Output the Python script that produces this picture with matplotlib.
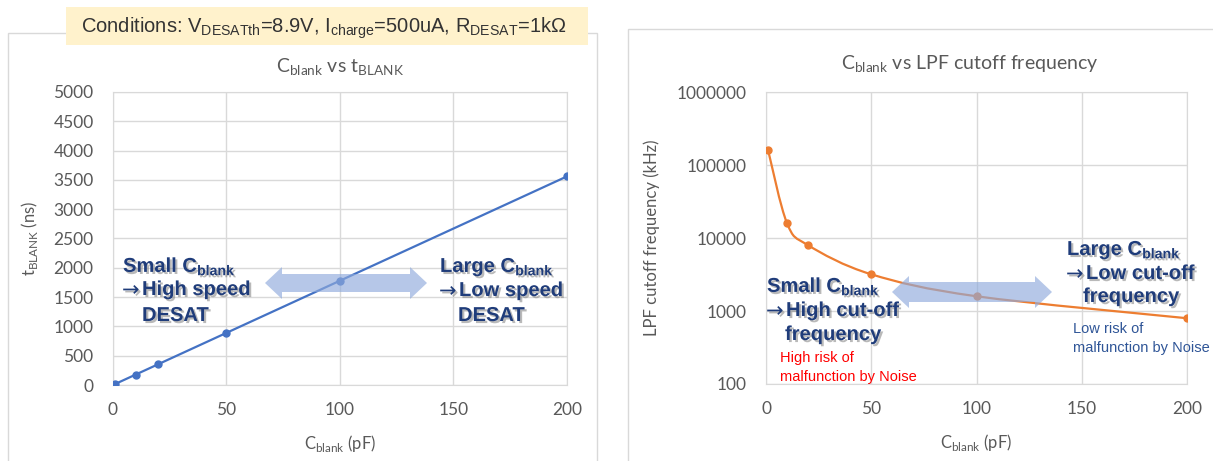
import matplotlib
matplotlib.use('Agg')
import matplotlib.pyplot as plt
import matplotlib.patheffects as pe
from matplotlib.patches import Rectangle, Polygon, PathPatch
from matplotlib.path import Path
import numpy as np

###################
# data
###################
c_blank = [1, 10, 20, 50, 100, 200]                      # pF
t_blank = [17.8, 178, 356, 890, 1780, 3560]              # ns
f_cut = [159155, 15915, 7958, 3183, 1592, 796]           # kHz

x_ticks = [0, 50, 100, 150, 200]
t_ticks = [0, 500, 1000, 1500, 2000, 2500, 3000, 3500, 4000, 4500, 5000]
f_ticks = [100, 1000, 10000, 100000, 1000000]
f_tick_labels = ['100', '1000', '10000', '100000', '1000000']

W, H = 1213, 461
GRID = '#d9d9d9'
TXT = '#595959'
NAVY = '#1f3c7a'
BLUE = '#4472c4'
ORANGE = '#ed7d31'

plt.rcParams['font.family'] = ['Lato', 'DejaVu Sans']

fig = plt.figure(figsize=(W / 100, H / 100), dpi=100)


def fx(x):
    return x / W


def fy(y):
    return 1 - y / H


def box(x0, y0, x1, y1, **kw):
    fig.patches.append(Rectangle((fx(x0), fy(y1)), fx(x1 - x0), (y1 - y0) / H,
                                 transform=fig.transFigure, **kw))


def double_arrow(x0, x1, yc, hl=17, hh=16, bh=9):
    pts = [(x0, yc), (x0 + hl, yc - hh), (x0 + hl, yc - bh), (x1 - hl, yc - bh),
           (x1 - hl, yc - hh), (x1, yc), (x1 - hl, yc + hh), (x1 - hl, yc + bh),
           (x0 + hl, yc + bh), (x0 + hl, yc + hh)]
    fig.patches.append(Polygon([(fx(a), fy(b)) for a, b in pts], closed=True,
                               transform=fig.transFigure, facecolor='#8faadc',
                               edgecolor='none', alpha=0.65, zorder=5))


shadow = [pe.withSimplePatchShadow(offset=(1.5, -1.5), shadow_rgbFace='#808080', alpha=0.55)]


def note(x, y, s, size=14.5, color=NAVY, bold=True, fam=('Liberation Sans', 'DejaVu Sans')):
    fig.text(fx(x), fy(y), s, fontsize=size, color=color,
             fontweight='bold' if bold else 'normal',
             family=list(fam), va='baseline', ha='left',
             path_effects=shadow if bold else None, zorder=6)


def arrow_note(x, y, s):
    # long thin arrow glyph from DejaVu, rest in Arial-like face
    fig.text(fx(x - 1), fy(y + 1), '\u2192', fontsize=15, color=NAVY,
             family=['DejaVu Sans'], va='baseline', ha='left', zorder=6,
             path_effects=shadow)
    note(x + 19, y, s)


def smooth_path(ax, xs, ys):
    # Catmull-Rom style bezier, like spreadsheet "smoothed line"
    p = ax.transAxes.inverted().transform(ax.transData.transform(np.column_stack([xs, ys])))
    n = len(p)
    verts = [p[0]]
    codes = [Path.MOVETO]
    for i in range(n - 1):
        pm = p[i - 1] if i > 0 else p[i]
        pn = p[i + 2] if i + 2 < n else p[i + 1]
        c1 = p[i] + (p[i + 1] - pm) / 6
        c2 = p[i + 1] - (pn - p[i]) / 6
        verts += [c1, c2, p[i + 1]]
        codes += [Path.CURVE4] * 3
    return Path(verts, codes)


# panel borders
box(8, 33, 597, 470, facecolor='none', edgecolor=GRID, lw=1)
box(628, 29, 1230, 470, facecolor='none', edgecolor=GRID, lw=1)

###################
# left : t_BLANK
###################
ax1 = fig.add_axes([fx(113), fy(385), (567 - 113) / W, (385 - 92) / H])
ax1.plot(c_blank, t_blank, color=BLUE, lw=1.6, marker='o', ms=5, zorder=3)
ax1.set_xlim(0, 200)
ax1.set_ylim(0, 5000)
ax1.set_xticks(x_ticks)
ax1.set_yticks(t_ticks)
ax1.set_ylabel(r't$_{\mathregular{BLANK}}$ (ns)', fontsize=12, color=TXT)
ax1.set_xlabel(r'C$_{\mathregular{blank}}$ (pF)', fontsize=12, color=TXT)
ax1.yaxis.set_label_coords(-0.161, 0.5)
ax1.xaxis.set_label_coords(0.5, -0.165)

###################
# right : cutoff
###################
ax2 = fig.add_axes([fx(766), fy(384), (1187 - 766) / W, (384 - 92) / H])
ax2.set_yscale('log')
ax2.set_xlim(0, 200)
ax2.set_ylim(100, 1000000)
ax2.set_xticks(x_ticks)
ax2.set_yticks(f_ticks)
ax2.set_yticklabels(f_tick_labels)
ax2.yaxis.set_minor_locator(matplotlib.ticker.NullLocator())
ax2.add_patch(PathPatch(smooth_path(ax2, c_blank, f_cut), transform=ax2.transAxes,
                        facecolor='none', edgecolor=ORANGE, lw=1.6, zorder=3))
ax2.plot(c_blank, f_cut, color=ORANGE, ls='none', marker='o', ms=5, zorder=3)
ax2.set_ylabel('LPF cutoff frequency (kHz)', fontsize=12, color=TXT)
ax2.set_xlabel(r'C$_{\mathregular{blank}}$ (pF)', fontsize=12, color=TXT)
ax2.yaxis.set_label_coords(-0.252, 0.5)
ax2.xaxis.set_label_coords(0.5, -0.165)

for ax in (ax1, ax2):
    ax.grid(True, color=GRID, lw=1)
    ax.set_axisbelow(True)
    for s in ax.spines.values():
        s.set_color(GRID)
    ax.tick_params(length=0, labelsize=12.5, labelcolor=TXT)
    ax.tick_params(axis='y', pad=14)
    ax.tick_params(axis='x', pad=12)

# titles
fig.text(fx(340), fy(73), r'C$_{\mathregular{blank}}$ vs t$_{\mathregular{BLANK}}$',
         fontsize=14, color=TXT, ha='center', va='baseline')
fig.text(fx(970), fy(70), r'C$_{\mathregular{blank}}$ vs LPF cutoff frequency',
         fontsize=14, color=TXT, ha='center', va='baseline')

# conditions box
box(66, 7, 588, 45, facecolor='#fff2cc', edgecolor='none', zorder=4)
fig.text(fx(324), fy(33),
         r'Conditions: V$_{\mathregular{DESATth}}$=8.9V, I$_{\mathregular{charge}}$=500uA, R$_{\mathregular{DESAT}}$=1k$\mathregular{\Omega}$',
         fontsize=14.5, color='#333333', ha='center', va='baseline',
         family=['Liberation Sans', 'DejaVu Sans'], zorder=5)

# arrows
double_arrow(265, 427, 283)
double_arrow(892, 1052, 292, bh=10)

# annotations left
note(123, 272, r'Small C$_{\mathregular{blank}}$')
arrow_note(123, 295, 'High speed')
note(142, 321, 'DESAT')
note(440, 272, r'Large C$_{\mathregular{blank}}$')
arrow_note(440, 296, 'Low speed')
note(458, 321, 'DESAT')

# annotations right
note(767, 292, r'Small C$_{\mathregular{blank}}$')
arrow_note(767, 316, 'High cut-off')
note(785, 340, 'frequency')
note(780, 362, 'High risk of', size=10.5, color='#ff0000', bold=False)
note(780, 381, 'malfunction by Noise', size=10.5, color='#ff0000', bold=False)
note(1067, 255, r'Large C$_{\mathregular{blank}}$')
arrow_note(1067, 279, 'Low cut-off')
note(1083, 302, 'frequency')
note(1073, 333, 'Low risk of', size=10.5, color='#2f5597', bold=False)
note(1073, 352, 'malfunction by Noise', size=10.5, color='#2f5597', bold=False)

fig.savefig('out.png', dpi=100)
